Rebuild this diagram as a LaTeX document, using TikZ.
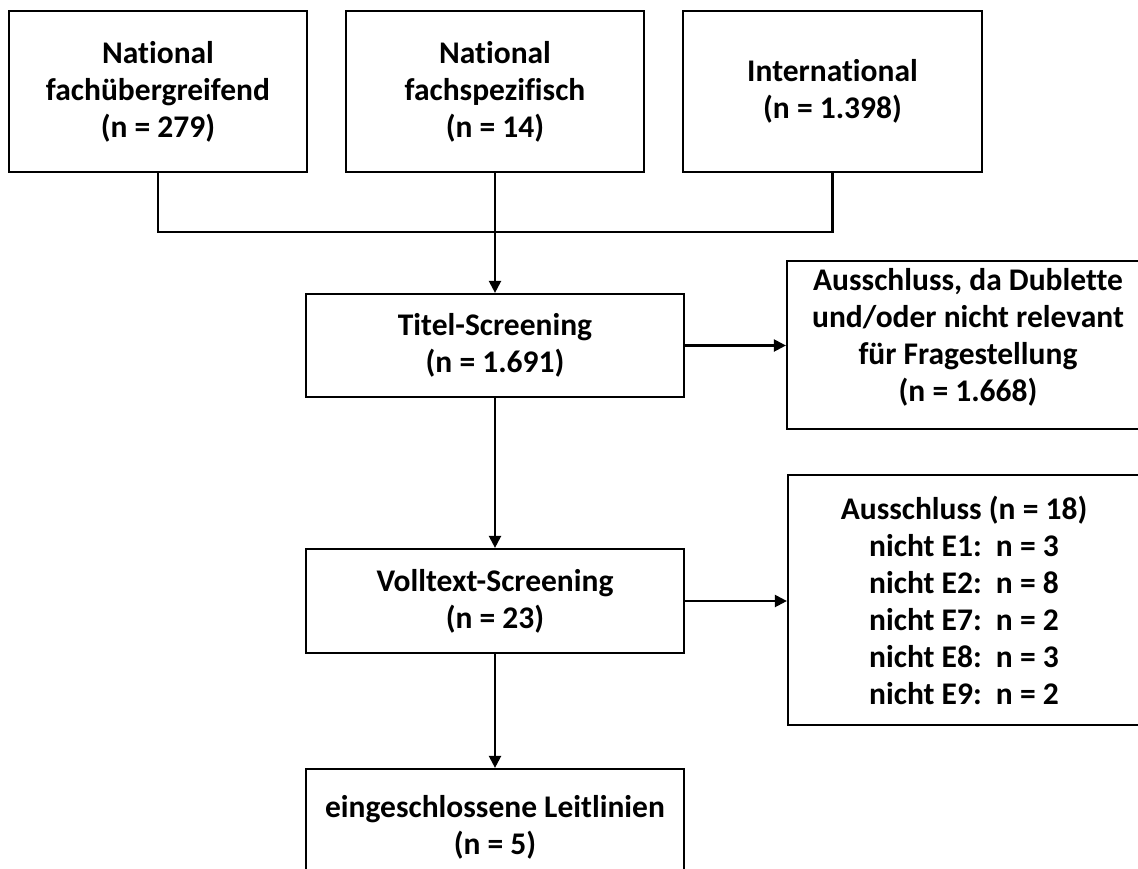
\documentclass[tikz,border=0pt]{standalone}
\usepackage{fontspec}
\setmainfont{Carlito}[Ligatures={NoCommon}]
\usetikzlibrary{arrows.meta}
\begin{document}
\begin{tikzpicture}[x=1pt,y=-1pt,
  box/.style={draw=black, line width=2.2pt, inner sep=0pt, align=center,
    font=\fontsize{31.5}{37}\selectfont\bfseries},
  txt/.style={inner sep=0pt, align=center,
    font=\fontsize{31.5}{37}\selectfont\bfseries},
  link/.style={line width=2.2pt},
  flow/.style={link, -{Triangle[length=12pt,width=12pt]}}]
\useasboundingbox (0,0) rectangle (1138,868);

% sources
\node[box, minimum width=298pt, minimum height=161pt] (b1) at (158,91.5)
  {National\\fachübergreifend\\(n = 279)};
\node[box, minimum width=298pt, minimum height=161pt] (b2) at (495,91.5)
  {National\\fachspezifisch\\(n = 14)};
\node[box, minimum width=299pt, minimum height=161pt] (b3) at (832.5,91.5)
  {International\\(n = 1.398)};

% screening steps
\node[box, minimum width=378pt, minimum height=103pt] (titel) at (495,345.5)
  {Titel-Screening\\(n = 1.691)};
\node[box, minimum width=378pt, minimum height=104pt] (voll) at (495,601)
  {Volltext-Screening\\(n = 23)};
\node[box, minimum width=378pt, minimum height=116pt] (incl) at (495,827)
  {eingeschlossene Leitlinien\\(n = 5)};

% exclusions
\node[box, minimum width=363pt, minimum height=168pt] (exA) at (968.5,345) {};
\node[txt] (exAtext) at (968,337)
  {Ausschluss, da Dublette\\und/oder nicht relevant\\für Fragestellung\\(n = 1.668)};
\node[box, minimum width=352pt, minimum height=250pt] (exB) at (964,600)
  {Ausschluss (n = 18)\\nicht E1:\ \ n = 3\\nicht E2:\ \ n = 8\\nicht E7:\ \ n = 2\\nicht E8:\ \ n = 3\\nicht E9:\ \ n = 2};

% connectors
\coordinate (join) at (495,232);
\draw[link] (b1.south) |- (join) -| (b3.south);
\draw[flow] (b2.south) -- (titel.north);
\draw[flow] (titel.south) -- (voll.north);
\draw[flow] (voll.south) -- (incl.north);
\draw[flow] (titel.east) -- (exA.west |- titel.east);
\draw[flow] (voll.east) -- (exB.west |- voll.east);
\end{tikzpicture}
\end{document}
